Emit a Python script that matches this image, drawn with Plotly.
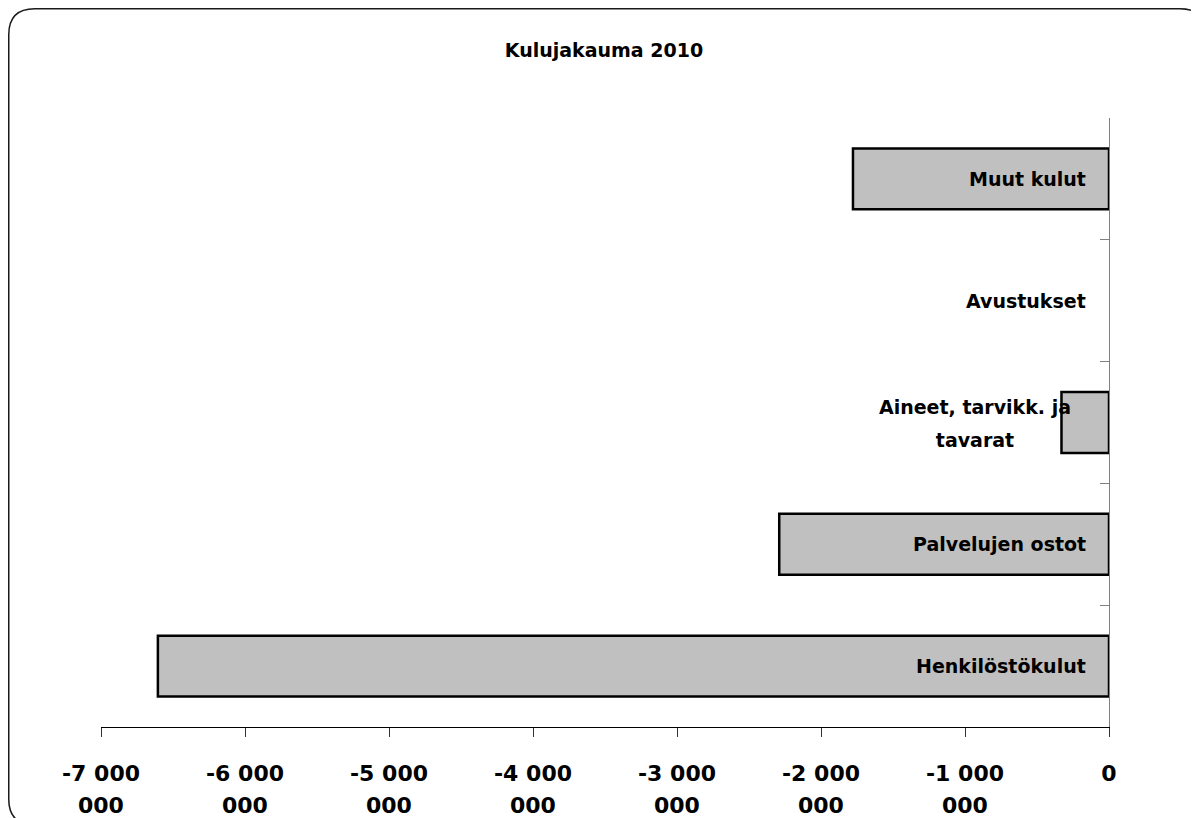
import plotly.graph_objects as go

# ---- data ----
categories = ["Henkilöstökulut", "Palvelujen ostot", "Aineet, tarvikk. ja<br>tavarat", "Avustukset", "Muut kulut"]
values = [-6605000, -2290000, -330000, 0, -1778000]
x_tickvals = [-7000000, -6000000, -5000000, -4000000, -3000000, -2000000, -1000000, 0]
x_tick_line1 = ["-7 000", "-6 000", "-5 000", "-4 000", "-3 000", "-2 000", "-1 000", "0"]
x_tick_line2 = ["000", "000", "000", "000", "000", "000", "000", ""]
title_text = "Kulujakauma 2010"

# ---- layout geometry (figure pixels; page has an 8px body margin) ----
OFF = 8
W, H = 1199 - OFF, 818 - OFF
L, R, T, B = 101 - OFF, 1109 - OFF, 118 - OFF, 727 - OFF
pw, ph = R - L, B - T

def px(x):
    return (x - L) / pw

def py(y):
    return (B - y) / ph

FONT = dict(family="DejaVu Sans", color="#000000", weight="bold")
LABEL_SIZE = 19
TICK_SIZE = 22

fig = go.Figure()
fig.add_trace(go.Bar(
    y=categories,
    x=values,
    orientation="h",
    width=0.5,
    marker=dict(color="#c0c0c0",
                line=dict(color="#000000", width=[0 if v == 0 else 2.5 for v in values])),
    hoverinfo="x+y",
))

annotations = []
# category labels inside the plot, right aligned against the axis
for c in categories:
    lines = c.split("<br>")
    if len(lines) == 1:
        annotations.append(dict(
            x=0, y=c, xref="x", yref="y", text=c, showarrow=False,
            xanchor="right", yanchor="middle", xshift=-21,
            font=dict(size=LABEL_SIZE, **FONT),
        ))
    else:
        n = len(lines)
        for i, ln in enumerate(lines):
            annotations.append(dict(
                x=0, y=c, xref="x", yref="y", text=ln, showarrow=False,
                xanchor="right", yanchor="middle", align="center", width=222,
                xshift=-21, yshift=(n - 1) / 2 * 33 - i * 33 - 1,
                font=dict(size=LABEL_SIZE, **FONT),
            ))
# second lines of x tick labels
for v, t in zip(x_tickvals, x_tick_line2):
    if t:
        annotations.append(dict(
            x=v, y=0, xref="x", yref="paper", text=t, showarrow=False,
            xanchor="center", yanchor="middle", yshift=-78,
            font=dict(size=TICK_SIZE, **FONT),
        ))

# rounded border (extends past right/bottom edges)
x0, y0, x1, y1, r = 0.75, 0.75, 1206 - OFF, 825 - OFF, 26
path = (f"M {px(x0)},{py(y0 + r)} "
        f"Q {px(x0)},{py(y0)} {px(x0 + r)},{py(y0)} "
        f"L {px(x1 - r)},{py(y0)} "
        f"Q {px(x1)},{py(y0)} {px(x1)},{py(y0 + r)} "
        f"L {px(x1)},{py(y1 - r)} "
        f"Q {px(x1)},{py(y1)} {px(x1 - r)},{py(y1)} "
        f"L {px(x0 + r)},{py(y1)} "
        f"Q {px(x0)},{py(y1)} {px(x0)},{py(y1 - r)} Z")
shapes = [
    dict(type="path", path=path, xref="paper", yref="paper",
         line=dict(color="#1a1a1a", width=1.5), fillcolor="rgba(0,0,0,0)", layer="above"),
]

fig.update_layout(
    width=W, height=H,
    margin=dict(l=L, r=W - R, t=T, b=H - B, pad=0),
    paper_bgcolor="#ffffff", plot_bgcolor="#ffffff",
    showlegend=False,
    title=dict(text=title_text, x=(604 - OFF) / W, xanchor="center",
               y=1 - (50 - OFF) / H, yanchor="middle", yref="container",
               font=dict(size=LABEL_SIZE, **FONT)),
    xaxis=dict(range=[-7000000, 0], tickvals=x_tickvals, ticktext=x_tick_line1,
               showgrid=False, zeroline=False, showline=True, linecolor="#000000", linewidth=1,
               ticks="outside", ticklen=9, tickcolor="#333333", tickwidth=1,
               ticklabelstandoff=18,
               tickfont=dict(size=TICK_SIZE, **FONT)),
    yaxis=dict(type="category", categoryorder="array", categoryarray=categories,
               range=[-0.5, 4.5], side="right", showgrid=False, zeroline=False,
               showline=True, linecolor="#808080", linewidth=1,
               ticks="inside", ticklen=9, tickcolor="#808080", tickson="boundaries",
               showticklabels=False),
    bargap=0.5,
    annotations=annotations,
    shapes=shapes,
)

fig.write_html("out.html")
